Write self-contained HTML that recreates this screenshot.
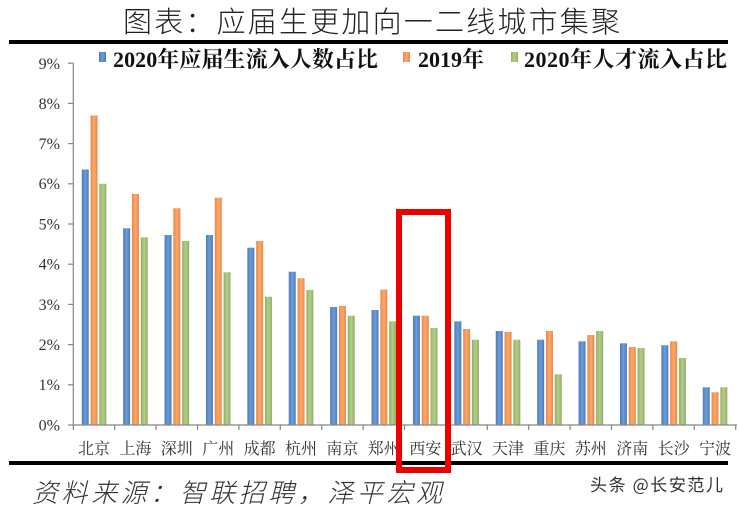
<!DOCTYPE html>
<html><head><meta charset="utf-8"><style>
html,body{margin:0;padding:0;background:#fff;}
svg{display:block;}
.ser{font-family:"Liberation Serif","Noto Serif CJK SC","Noto Serif CJK JP",serif;}
.sans{font-family:"Noto Sans CJK SC","WenQuanYi Zen Hei",sans-serif;}
</style></head><body>
<svg width="739" height="509" viewBox="0 0 739 509" xmlns="http://www.w3.org/2000/svg">
<defs>
<linearGradient id="gb" x1="0" x2="1" y1="0" y2="0"><stop offset="0" stop-color="#4b7bbb"/><stop offset="0.5" stop-color="#6e9cd6"/><stop offset="1" stop-color="#4b7bbb"/></linearGradient>
<linearGradient id="go" x1="0" x2="1" y1="0" y2="0"><stop offset="0" stop-color="#ec8642"/><stop offset="0.5" stop-color="#fbaa6e"/><stop offset="1" stop-color="#ec8642"/></linearGradient>
<linearGradient id="gg" x1="0" x2="1" y1="0" y2="0"><stop offset="0" stop-color="#91af63"/><stop offset="0.5" stop-color="#b4cd8b"/><stop offset="1" stop-color="#91af63"/></linearGradient>
</defs>
<rect width="739" height="509" fill="#fff"/>
<!-- title -->
<text class="sans" x="123" y="32" font-weight="300" font-size="29" fill="#222" textLength="497" lengthAdjust="spacing">图表：应届生更加向一二线城市集聚</text>
<rect x="9" y="40" width="719" height="4" fill="#000"/>
<!-- legend -->
<rect x="99" y="52" width="7" height="10" fill="url(#gb)"/>
<text class="ser" x="113" y="67" font-weight="bold" font-size="22" fill="#111" textLength="265" lengthAdjust="spacing">2020年应届生流入人数占比</text>
<rect x="403" y="52" width="7" height="10" fill="url(#go)"/>
<text class="ser" x="418" y="67" font-weight="bold" font-size="22" fill="#111" textLength="66" lengthAdjust="spacing">2019年</text>
<rect x="511" y="52" width="7" height="10" fill="url(#gg)"/>
<text class="ser" x="524" y="67" font-weight="bold" font-size="22" fill="#111" textLength="203" lengthAdjust="spacing">2020年人才流入占比</text>
<!-- y axis -->
<g stroke="#868686" stroke-width="1.2">
<line x1="73.3" y1="63" x2="73.3" y2="425"/>
<line x1="68" y1="63.2" x2="73.3" y2="63.2"/>
<line x1="68" y1="103.4" x2="73.3" y2="103.4"/>
<line x1="68" y1="143.6" x2="73.3" y2="143.6"/>
<line x1="68" y1="183.8" x2="73.3" y2="183.8"/>
<line x1="68" y1="224" x2="73.3" y2="224"/>
<line x1="68" y1="264.2" x2="73.3" y2="264.2"/>
<line x1="68" y1="304.4" x2="73.3" y2="304.4"/>
<line x1="68" y1="344.6" x2="73.3" y2="344.6"/>
<line x1="68" y1="384.8" x2="73.3" y2="384.8"/>
</g>
<g class="ser" font-size="16" fill="#333" text-anchor="end">
<text x="60" y="69">9%</text>
<text x="60" y="109">8%</text>
<text x="60" y="149">7%</text>
<text x="60" y="189">6%</text>
<text x="60" y="229.5">5%</text>
<text x="60" y="269.5">4%</text>
<text x="60" y="310">3%</text>
<text x="60" y="350">2%</text>
<text x="60" y="390">1%</text>
<text x="60" y="430.5">0%</text>
</g>
<!-- bars -->
<g fill="url(#gb)">
<rect x="81.75" y="169.5" width="7" height="255.5"/>
<rect x="123.15" y="228.3" width="7" height="196.7"/>
<rect x="164.55" y="235" width="7" height="190"/>
<rect x="205.95" y="235" width="7" height="190"/>
<rect x="247.35" y="247.7" width="7" height="177.3"/>
<rect x="288.75" y="271.7" width="7" height="153.3"/>
<rect x="330.15" y="307" width="7" height="118"/>
<rect x="371.55" y="310" width="7" height="115"/>
<rect x="412.95" y="315.7" width="7" height="109.3"/>
<rect x="454.35" y="321.3" width="7" height="103.7"/>
<rect x="495.75" y="331" width="7" height="94"/>
<rect x="537.15" y="339.7" width="7" height="85.3"/>
<rect x="578.55" y="341.3" width="7" height="83.7"/>
<rect x="619.95" y="343.3" width="7" height="81.7"/>
<rect x="661.35" y="345.3" width="7" height="79.7"/>
<rect x="702.75" y="387.3" width="7" height="37.7"/>
</g>
<g fill="url(#go)">
<rect x="90.55" y="115.5" width="7" height="309.5"/>
<rect x="131.95" y="194" width="7" height="231"/>
<rect x="173.35" y="208.3" width="7" height="216.7"/>
<rect x="214.75" y="197.7" width="7" height="227.3"/>
<rect x="256.15" y="241" width="7" height="184"/>
<rect x="297.55" y="278.3" width="7" height="146.7"/>
<rect x="338.95" y="306" width="7" height="119"/>
<rect x="380.35" y="289.7" width="7" height="135.3"/>
<rect x="421.75" y="315.7" width="7" height="109.3"/>
<rect x="463.15" y="329" width="7" height="96"/>
<rect x="504.55" y="332" width="7" height="93"/>
<rect x="545.95" y="331" width="7" height="94"/>
<rect x="587.35" y="335" width="7" height="90"/>
<rect x="628.75" y="347" width="7" height="78"/>
<rect x="670.15" y="341.3" width="7" height="83.7"/>
<rect x="711.55" y="392.3" width="7" height="32.7"/>
</g>
<g fill="url(#gg)">
<rect x="99.35" y="183.8" width="7" height="241.2"/>
<rect x="140.75" y="237.3" width="7" height="187.7"/>
<rect x="182.15" y="241" width="7" height="184"/>
<rect x="223.55" y="272.3" width="7" height="152.7"/>
<rect x="264.95" y="296.7" width="7" height="128.3"/>
<rect x="306.35" y="290" width="7" height="135"/>
<rect x="347.75" y="315.7" width="7" height="109.3"/>
<rect x="389.15" y="321.3" width="7" height="103.7"/>
<rect x="430.55" y="328" width="7" height="97"/>
<rect x="471.95" y="339.7" width="7" height="85.3"/>
<rect x="513.35" y="339.7" width="7" height="85.3"/>
<rect x="554.75" y="374.3" width="7" height="50.7"/>
<rect x="596.15" y="331" width="7" height="94"/>
<rect x="637.55" y="348" width="7" height="77"/>
<rect x="678.95" y="358" width="7" height="67"/>
<rect x="720.35" y="387.3" width="7" height="37.7"/>
</g>
<!-- x axis -->
<g stroke="#868686" stroke-width="1.2">
<line x1="68" y1="425" x2="737" y2="425"/>
<line x1="73.3" y1="425" x2="73.3" y2="430"/>
<line x1="114.7" y1="425" x2="114.7" y2="430"/>
<line x1="156.1" y1="425" x2="156.1" y2="430"/>
<line x1="197.5" y1="425" x2="197.5" y2="430"/>
<line x1="238.9" y1="425" x2="238.9" y2="430"/>
<line x1="280.3" y1="425" x2="280.3" y2="430"/>
<line x1="321.7" y1="425" x2="321.7" y2="430"/>
<line x1="363.1" y1="425" x2="363.1" y2="430"/>
<line x1="404.5" y1="425" x2="404.5" y2="430"/>
<line x1="445.9" y1="425" x2="445.9" y2="430"/>
<line x1="487.3" y1="425" x2="487.3" y2="430"/>
<line x1="528.7" y1="425" x2="528.7" y2="430"/>
<line x1="570.1" y1="425" x2="570.1" y2="430"/>
<line x1="611.5" y1="425" x2="611.5" y2="430"/>
<line x1="652.9" y1="425" x2="652.9" y2="430"/>
<line x1="694.3" y1="425" x2="694.3" y2="430"/>
<line x1="735.7" y1="425" x2="735.7" y2="430"/>
</g>
<g class="ser" font-size="16" fill="#333" text-anchor="middle">
<text x="94" y="454">北京</text>
<text x="135.4" y="454">上海</text>
<text x="176.8" y="454">深圳</text>
<text x="218.2" y="454">广州</text>
<text x="259.6" y="454">成都</text>
<text x="301" y="454">杭州</text>
<text x="342.4" y="454">南京</text>
<text x="383.8" y="454">郑州</text>
<text x="425.2" y="454">西安</text>
<text x="466.6" y="454">武汉</text>
<text x="508" y="454">天津</text>
<text x="549.4" y="454">重庆</text>
<text x="590.8" y="454">苏州</text>
<text x="632.2" y="454">济南</text>
<text x="673.6" y="454">长沙</text>
<text x="715" y="454">宁波</text>
</g>
<rect x="9" y="461" width="719" height="4" fill="#000"/>
<!-- red highlight box -->
<rect x="399" y="212" width="49" height="258" fill="none" stroke="#ec0000" stroke-width="6"/>
<!-- source -->
<text class="sans" x="32" y="502" font-weight="300" font-style="italic" font-size="26" fill="#333" textLength="410" lengthAdjust="spacing">资料来源：智联招聘，泽平宏观</text>
<text class="sans" x="590" y="491" font-size="17" fill="#333" textLength="133" lengthAdjust="spacing">头条 @长安范儿</text>
</svg>
</body></html>
